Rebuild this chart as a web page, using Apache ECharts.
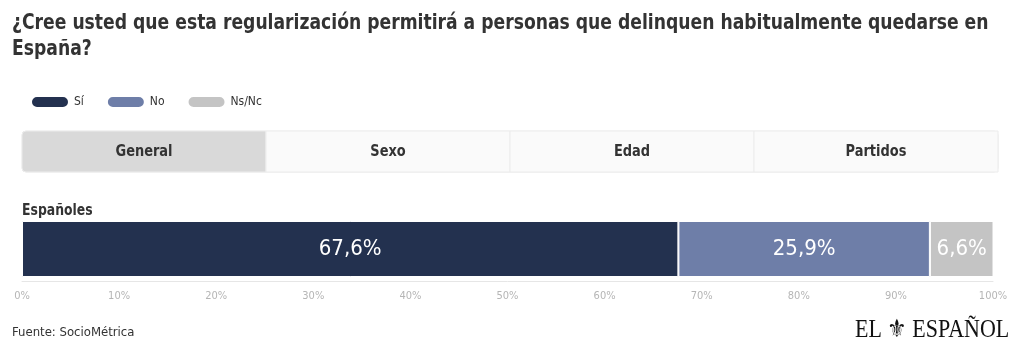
<!DOCTYPE html>
<html>
<head>
<meta charset="utf-8">
<script src="https://cdn.jsdelivr.net/npm/echarts@6/dist/echarts.min.js"></script>
<style>
  html, body { margin: 0; padding: 0; background: #fff; }
  #chart { width: 1020px; height: 356px; }
</style>
</head>
<body>
<div id="chart"></div>
<script>
// datos
const categories = ['Españoles'];
const seriesNames = ['Sí', 'No', 'Ns/Nc'];
const si = [67.6];
const no = [25.9];
const nsnc = [6.6];
const tabs = ['General', 'Sexo', 'Edad', 'Partidos'];

const colors = ['#23314f', '#6e7ea8', '#c4c4c4'];
const FONT = '"Liberation Sans Narrow", "DejaVu Sans Condensed", "Noto Sans", sans-serif';

const chart = echarts.init(document.getElementById('chart'));

// pestañas (solo decoración)
const tabX = 22, tabW = 976 / 4, tabY = 131, tabH = 41;
const tabGraphics = [];
tabGraphics.push({
  type: 'rect',
  shape: { x: tabX, y: tabY, width: 976, height: tabH, r: 4 },
  style: { fill: '#fafafa', stroke: '#ececec', lineWidth: 1 }
});
tabs.forEach((t, i) => {
  tabGraphics.push({
    type: 'rect',
    shape: { x: tabX + i * tabW, y: tabY, width: tabW, height: tabH, r: i === 0 ? [4, 0, 0, 4] : 0 },
    style: { fill: i === 0 ? '#d9d9d9' : '#fafafa', stroke: '#ececec', lineWidth: 1 }
  });
  tabGraphics.push({
    type: 'text',
    x: tabX + i * tabW + tabW / 2,
    y: tabY + tabH / 2,
    scaleX: 0.9,
    style: {
      text: t, align: 'center', verticalAlign: 'middle',
      font: 'bold 16px ' + FONT, fill: '#333'
    }
  });
});

const labelOpt = {
  show: true,
  position: 'inside',
  color: '#fff',
  fontSize: 22,
  fontFamily: FONT,
  formatter: p => p.value.toFixed(1).replace('.', ',') + '%'
};

// icono de leyenda en forma de píldora
const pill = 'path://M6,0 H32 A6,6 0 0 1 32,12 H6 A6,6 0 0 1 6,0 Z';

const option = {
  animation: false,
  textStyle: { fontFamily: FONT },
  legend: {
    left: 25,
    top: 90,
    icon: pill,
    itemWidth: 38,
    itemHeight: 12,
    itemGap: 22,
    textStyle: { fontSize: 12, color: '#333', fontFamily: FONT },
    data: seriesNames
  },
  grid: { left: 22, right: 27, top: 221, height: 56 },
  xAxis: {
    type: 'value',
    min: 0,
    max: 100,
    interval: 10,
    offset: 4,
    axisLine: { show: true, lineStyle: { color: '#e6e6e6' } },
    axisTick: { show: false },
    splitLine: { show: false },
    axisLabel: { formatter: '{value}%', color: '#b5b5b5', fontSize: 11, margin: 10 }
  },
  yAxis: {
    type: 'category',
    data: categories,
    axisLine: { show: false },
    axisTick: { show: false },
    axisLabel: { show: false }
  },
  graphic: tabGraphics.concat([
    {
      type: 'text', x: 12, y: 11, scaleX: 0.91,
      style: {
        text: '¿Cree usted que esta regularización permitirá a personas que delinquen habitualmente quedarse en\nEspaña?',
        font: 'bold 21px ' + FONT, lineHeight: 26, fill: '#333'
      }
    },
    {
      type: 'text', x: 22, y: 204, scaleX: 0.92,
      style: { text: categories[0], font: 'bold 15px ' + FONT, fill: '#333' }
    },
    {
      type: 'text', x: 12, y: 326,
      style: { text: 'Fuente: SocioMétrica', font: '13px ' + FONT, fill: '#333' }
    },
    {
      type: 'text', x: 855, y: 318, scaleX: 0.88,
      style: { text: 'EL ⚜ ESPAÑOL', font: '25px "Liberation Serif", "DejaVu Serif", serif', fill: '#111' }
    }
  ]),
  series: [
    { name: seriesNames[0], type: 'bar', stack: 'total', data: si },
    { name: seriesNames[1], type: 'bar', stack: 'total', data: no },
    { name: seriesNames[2], type: 'bar', stack: 'total', data: nsnc }
  ].map((s, i) => Object.assign(s, {
    barWidth: 56,
    itemStyle: { color: colors[i], borderColor: '#fff', borderWidth: 1 },
    label: labelOpt
  }))
};

chart.setOption(option);
</script>
</body>
</html>
